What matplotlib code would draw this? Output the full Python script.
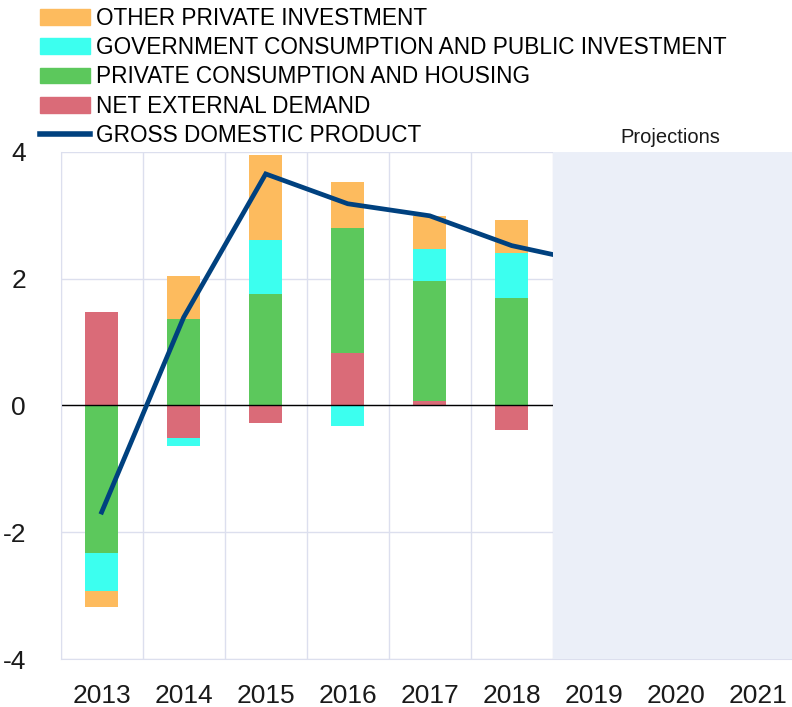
import numpy as np
import matplotlib
matplotlib.use("Agg")
import matplotlib.pyplot as plt
from matplotlib.patches import Patch
from matplotlib.lines import Line2D

plt.rcParams['font.family'] = ['Liberation Sans', 'DejaVu Sans']

# data
years = ['2013', '2014', '2015', '2016', '2017', '2018', '2019', '2020', '2021']
net_external = [1.47, -0.52, -0.27, 0.83, 0.07, -0.39]
private_cons = [-2.33, 1.36, 1.76, 1.96, 1.89, 1.69]
government = [-0.59, -0.12, 0.85, -0.33, 0.51, 0.71]
other_invest = [-0.25, 0.68, 1.34, 0.74, 0.51, 0.53]
gdp = [-1.68, 1.39, 3.65, 3.18, 2.99, 2.52, 2.24]

labels = ['OTHER PRIVATE INVESTMENT', 'GOVERNMENT CONSUMPTION AND PUBLIC INVESTMENT',
          'PRIVATE CONSUMPTION AND HOUSING', 'NET EXTERNAL DEMAND', 'GROSS DOMESTIC PRODUCT']
colors = {'other': '#FDBB5E', 'gov': '#3CFFEF', 'priv': '#5CC85C',
          'net': '#DA6B78', 'gdp': '#00417F'}

fig = plt.figure(figsize=(7.92, 7.07), dpi=100)
ax = fig.add_axes([0.0766, 0.0675, 0.9319, 0.7179])

x = np.arange(len(net_external))
w = 0.4

# stack positives upward and negatives downward, in series order
series = [(net_external, colors['net']), (private_cons, colors['priv']),
          (government, colors['gov']), (other_invest, colors['other'])]
pos_base = np.zeros(len(x))
neg_base = np.zeros(len(x))
for vals, col in series:
    vals = np.array(vals)
    bottoms = np.where(vals >= 0, pos_base, neg_base)
    ax.bar(x, vals, width=w, bottom=bottoms, color=col, zorder=2, linewidth=0)
    pos_base = pos_base + np.clip(vals, 0, None)
    neg_base = neg_base + np.clip(vals, None, 0)

ax.plot(np.arange(len(gdp)), gdp, color=colors['gdp'], lw=3.4, zorder=3,
        solid_joinstyle='miter')
ax.axhline(0, color='black', lw=1, zorder=2.5)

# projections shading covers everything past 2018
ax.axvspan(5.5, 8.5, color='#EBEFF8', zorder=4, lw=0)
ax.text(6.93, 4.23, 'Projections', ha='center', va='center', fontsize=14.5,
        color='#1a1a1a')

ax.set_xlim(-0.5, 8.5)
ax.set_ylim(-4, 4)
ax.set_xticks(np.arange(len(years)))
ax.set_xticklabels(years)
ax.set_yticks([-4, -2, 0, 2, 4])
ax.set_yticklabels(['-4', '-2', '0', '2', '4'])
ax.tick_params(axis='both', length=0, labelsize=19, colors='#1a1a1a')
ax.tick_params(axis='y', pad=25)
ax.tick_params(axis='x', pad=18)

ax.set_xticks(np.arange(-0.5, 8.6, 1), minor=True)
ax.tick_params(which='minor', length=0)
ax.grid(True, which='minor', axis='x', color='#DCDFEE', lw=1, zorder=0)
ax.grid(True, which='major', axis='y', color='#DCDFEE', lw=1, zorder=0)
for s in ['left', 'bottom']:
    ax.spines[s].set_color('#DCDFEE')
for s in ['right', 'top']:
    ax.spines[s].set_visible(False)

handles = [Patch(color=colors['other']), Patch(color=colors['gov']),
           Patch(color=colors['priv']), Patch(color=colors['net']),
           Line2D([], [], color=colors['gdp'], lw=4)]
fig.legend(handles, labels, loc='upper left', bbox_to_anchor=(0.048, 0.993),
           frameon=False, fontsize=16.3, handlelength=2.2, handleheight=0.7,
           handletextpad=0.25, labelspacing=0.27, borderpad=0.1,
           borderaxespad=0)

fig.savefig('out.png', dpi=100)
